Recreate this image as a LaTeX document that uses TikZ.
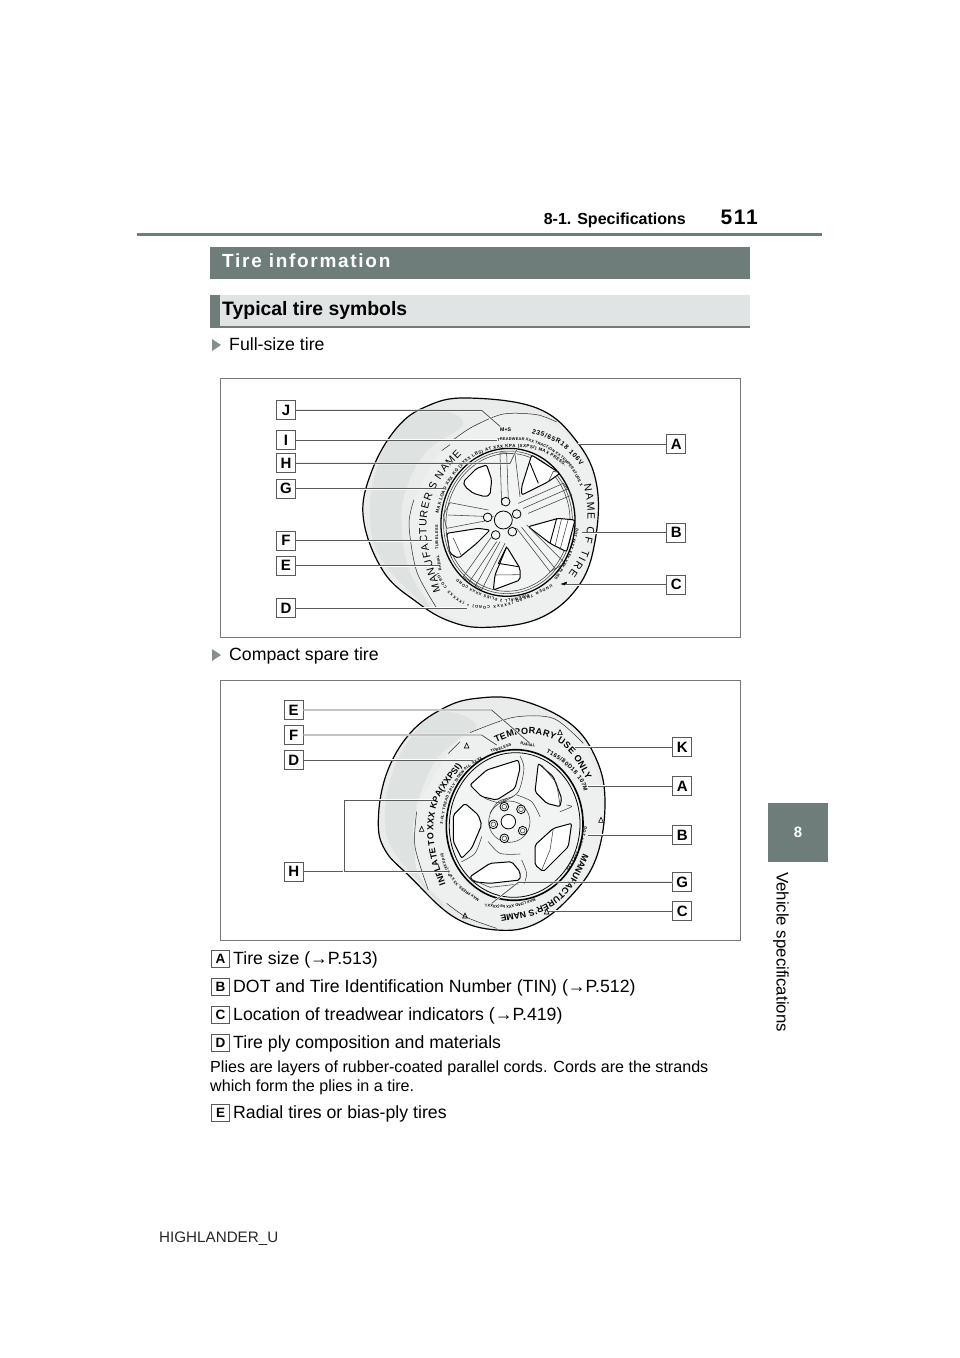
\documentclass[tikz,border=0pt]{standalone}
\usepackage{fontspec}
\setmainfont{Liberation Sans}
\usetikzlibrary{decorations.text}
\definecolor{bar}{HTML}{6E7C7A}
\definecolor{lbar}{HTML}{E0E4E4}
\definecolor{frame}{HTML}{777777}
\definecolor{lead}{HTML}{5A5A5A}
\definecolor{tread}{HTML}{DEE3E2}
\definecolor{pale}{HTML}{E9ECEB}
\definecolor{wall}{HTML}{EDF0EF}
\definecolor{rim}{HTML}{F2F3F3}
\newcommand\fs[1]{\fontsize{#1}{#1}\selectfont}
\newcommand\fTiny{\fontsize{3.9}{5}\selectfont\bfseries}
\newcommand\fLoad{\fontsize{4.4}{5}\selectfont\bfseries}
\newcommand\fSize{\fontsize{6.6}{7}\selectfont\bfseries}
\newcommand\fSpare{\fontsize{5.9}{7}\selectfont\bfseries}
\newcommand\fName{\fontsize{10.5}{11}\selectfont}
\newcommand\fBig{\fontsize{8.8}{9}\selectfont\bfseries}
\newcommand\fTemp{\fontsize{9.1}{10}\selectfont\bfseries}
\newcommand\ctdraw[3]{\path[decorate,decoration={text along path,text align={fit to path},text={|#2|#3}}] #1;}
\newcommand\ctext[3]{%
  \foreach \a/\b [count=\i] in {#3}{%
    \ifnum\i=1 \xdef\ctX{\a}\xdef\ctY{\b}\xdef\ctPath{(\a,\b)}\else \xdef\ctX{\ctX,\a}\xdef\ctY{\ctY,\b}\fi
    \xdef\ctN{\i}}%
  \xdef\ctXb{{\ctX}}\xdef\ctYb{{\ctY}}%
  \pgfmathtruncatemacro\ctLast{\ctN-2}%
  \foreach \k in {0,...,\ctLast}{%
    \pgfmathtruncatemacro\ia{max(\k-1,0)}%
    \pgfmathtruncatemacro\ib{\k}%
    \pgfmathtruncatemacro\ic{\k+1}%
    \pgfmathtruncatemacro\id{min(\k+2,\ctN-1)}%
    \pgfmathsetmacro\xa{\ctXb[\ia]}\pgfmathsetmacro\xb{\ctXb[\ib]}\pgfmathsetmacro\xc{\ctXb[\ic]}\pgfmathsetmacro\xd{\ctXb[\id]}%
    \pgfmathsetmacro\ya{\ctYb[\ia]}\pgfmathsetmacro\yb{\ctYb[\ib]}\pgfmathsetmacro\yc{\ctYb[\ic]}\pgfmathsetmacro\yd{\ctYb[\id]}%
    \foreach \s in {1,...,6}{%
      \pgfmathsetmacro\cT{\s/6}%
      \pgfmathsetmacro\px{0.5*(2*\xb+(\xc-\xa)*\cT+(2*\xa-5*\xb+4*\xc-\xd)*\cT*\cT+(3*\xb-\xa-3*\xc+\xd)*\cT*\cT*\cT)}%
      \pgfmathsetmacro\py{0.5*(2*\yb+(\yc-\ya)*\cT+(2*\ya-5*\yb+4*\yc-\yd)*\cT*\cT+(3*\yb-\ya-3*\yc+\yd)*\cT*\cT*\cT)}%
      \xdef\ctPath{\ctPath -- (\px,\py)}%
    }%
  }%
  \expandafter\ctdraw\expandafter{\ctPath}{#1}{#2}%
}
\tikzset{
 lbl/.style={draw=lead,fill=white,line width=1pt,minimum size=19pt,inner sep=0pt,font=\fs{15}\bfseries},
 ldr/.style={draw=white,double=lead,double distance=.9pt,line width=.6pt},
 outl/.style={draw=black,line width=1.2pt,line join=round},
 thin/.style={draw=black!85,line width=.5pt},
 spk/.style={draw=black!75,line width=.55pt,line cap=round},
 win/.style={fill=white,draw=black,line width=1pt,line join=round,rounded corners=2pt},
 frm/.style={draw=frame,line width=1pt},
 itm/.style={draw=lead,fill=white,line width=.8pt,minimum size=17.5pt,inner sep=0pt,font=\fs{13.5}\bfseries},
 body/.style={anchor=base west,inner sep=0pt,font=\fs{17.7}},
 tri/.style={fill=bar!85},
 bolt/.style={draw=black,fill=rim,line width=.8pt},
}
\begin{document}
\begin{tikzpicture}[x=1pt,y=-1pt]
\useasboundingbox (0,0) rectangle (960,1358);
% header
\fill[bar] (137,232.5) rectangle (822,235.5);
\node[anchor=base east,inner sep=0pt,font=\fs{16}\bfseries] (sec) at (686,224) {8-1. Specifications};
\node[anchor=base east,inner sep=0pt,font=\fs{21}\bfseries\addfontfeature{LetterSpace=8}] (pg) at (758,224) {511};
\fill[bar] (210,247) rectangle (750,279);
\node[anchor=base west,inner sep=0pt,text=white,font=\fs{19}\bfseries\addfontfeature{LetterSpace=9}] (t1) at (222,267) {Tire information};
\fill[lbar] (210,295) rectangle (750,328);
\fill[bar] (210,295) rectangle (220,328);
\fill[bar] (210,326) rectangle (750,328);
\node[anchor=base west,inner sep=0pt,font=\fs{19.4}\bfseries] (t2) at (222,315) {Typical tire symbols};
\fill[tri] (212,339) -- (221,345) -- (212,351) -- cycle;
\node[body] (sub1) at (229,350) {Full-size tire};
\fill[tri] (212,649) -- (221,655) -- (212,661) -- cycle;
\node[body] (sub2) at (229,660) {Compact spare tire};
% frames
\draw[frm] (220,378) rectangle (740,637);
\draw[frm] (220,680) rectangle (740,940);
% side tab
\fill[bar] (768,803) rectangle (828,862);
\node[text=white,font=\fs{15}\bfseries,inner sep=0pt] (tab) at (798,832) {8};
\node[rotate=-90,inner sep=0pt,font=\fs{16.8}] (vs) at (781,952) {Vehicle specifications};
% list
\node[itm] (iA) at (220.5,959) {A};
\node[body] (tA) at (233,964) {Tire size (→P.513)};
\node[itm] (iB) at (220.5,987) {B};
\node[body] (tB) at (233,992) {DOT and Tire Identification Number (TIN) (→P.512)};
\node[itm] (iC) at (220.5,1015) {C};
\node[body] (tC) at (233,1020) {Location of treadwear indicators (→P.419)};
\node[itm] (iD) at (220.5,1043) {D};
\node[body] (tD) at (233,1048) {Tire ply composition and materials};
\node[anchor=base west,inner sep=0pt,font=\fs{16.1}] (p1) at (210,1072) {Plies are layers of rubber-coated parallel cords. Cords are the strands};
\node[anchor=base west,inner sep=0pt,font=\fs{16.1}] (p2) at (210,1091) {which form the plies in a tire.};
\node[itm] (iE) at (220.5,1113) {E};
\node[body] (tE) at (233,1118) {Radial tires or bias-ply tires};
\node[anchor=base west,inner sep=0pt,text=black!85,font=\fs{15.2}] (foot) at (159,1242) {HIGHLANDER\_U};

% ===== TIRE 1 =====
\begin{scope}[shift={(220,378)},x=.33333pt,y=-.33333pt]
\fill[pale] plot[smooth cycle,tension=.65] coordinates {(740,60) (950,90) (1070,190) (1130,320) (1125,490) (1075,625) (960,720) (800,748) (690,730) (590,672) (490,580) (430,420) (455,280) (530,150) (620,85)};
\fill[tread] plot[smooth cycle,tension=.7] coordinates {(620,92) (530,155) (470,270) (450,420) (485,545) (600,670) (625,680) (565,570) (545,430) (560,330) (620,220) (730,135)};
\fill[wall] plot[smooth cycle,tension=.75] coordinates {(880,103) (1040,170) (1125,320) (1120,490) (1075,620) (960,715) (800,745) (650,690) (590,580) (567,440) (582,365) (665,218) (760,145)};
\draw[outl] plot[smooth cycle,tension=.65] coordinates {(740,60) (950,90) (1070,190) (1130,320) (1125,490) (1075,625) (960,720) (800,748) (690,730) (590,672) (490,580) (430,420) (455,280) (530,150) (620,85)};
\draw[thin] plot[smooth] coordinates {(665,218) (690,200)};
\draw[thin] plot[smooth] coordinates {(700,185) (760,145) (850,108) (950,110) (1010,132)};
\draw[thin] plot[smooth] coordinates {(582,365) (567,440) (590,580) (650,690)};
% rim
\draw[fill=rim,draw=black,line width=1.3pt,shift={(864,433)},rotate=-5] (0,0) ellipse[x radius=201,y radius=222];
\draw[spk,shift={(864,433)},rotate=-5] (0,0) ellipse[x radius=193,y radius=214];
\draw[spk,shift={(864,433)},rotate=-5] (0,0) ellipse[x radius=186,y radius=207];
% windows
\path[win] (730,311) -- (770,271) -- (800,261) -- (815,306) -- (810,351) -- (795,356) -- (760,346) -- (735,326) -- cycle;
\path[win] (935,231) -- (1020,286) -- (985,311) -- (905,351) -- (905,326) -- cycle;
\path[win] (925,446) -- (1015,421) -- (1065,426) -- (1040,521) -- (990,496) -- cycle;
\path[win] (860,506) -- (900,571) -- (900,606) -- (820,636) -- (825,591) -- cycle;
\path[win] (680,466) -- (775,451) -- (810,456) -- (770,496) -- (715,541) -- (690,526) -- cycle;
\draw[black,line width=.9pt] (930,255) -- (955,316) (1010,421) -- (990,496) (860,506) -- (835,556) -- (895,566);
\draw[spk] (1025,421) -- (1005,505) (1045,423) -- (1020,515) (985,311) -- (1000,280) -- (1015,283);
\draw[spk] (825,591) -- (900,590);
\draw[spk] (680,466) -- (690,526) -- (695,540) (700,480) -- (725,535);
% spoke lines
\draw[spk] (670,411) -- (690,374) -- (805,396) (670,411) -- (680,451) -- (810,426) (685,411) -- (820,416);
\draw[spk] (840,225) -- (845,381) (860,225) -- (865,366) (885,228) -- (900,356) (840,225) -- (860,225) -- (885,228);
\draw[spk] (895,376) -- (1030,316) -- (1055,351) -- (925,406) (910,391) -- (1040,334);
\draw[spk] (890,451) -- (990,581) (920,441) -- (1035,556) (905,448) -- (1005,571) (990,581) -- (1035,556);
\draw[spk] (830,491) -- (745,616) (855,496) -- (785,636) (815,476) -- (730,596) (840,491) -- (765,626) (730,596) -- (785,636);
% hub
\foreach \a/\b in {857/371,803/418,890/408,827/471,877/461}
  \draw[bolt] (\a,\b) circle[radius=13];
\node[circle,draw=black,fill=rim,line width=.8pt,minimum size=18pt,inner sep=0pt] (hub1) at (850,426) {};
% texts
\node[inner sep=0pt,font=\fontsize{5.2}{6}\selectfont\bfseries] (ms) at (857,154) {M+S};
\ctext{\fSize}{235/65R18 106V}{935/165,1020/200,1082/262}
\ctext{\fTiny}{TREADWEAR XXX TRACTION XX TEMPERATURE X}{833/189,915/188,985/214,1045/262,1082/325}
\ctext{\fLoad}{MAX LOAD XXX KG (XXXX LBS) AT XXX KPA (XXPSI) MAX PRESS.}{655/405,683/325,742/250,810/218,885/208,965/220,1035/265}
\ctext{\fName}{NAME OF TIRE}{1092/318,1102/390,1100/460,1082/530,1045/590}
\ctext{\fName}{MANUFACTURER'S NAME}{662/640,630/530,620/460,625/390,650/325,680/278,725/230}
\ctext{\fTiny}{TUBELESS}{655/514,654/441}
\ctext{\fTiny}{RADIAL}{665/576,657/531}
\ctext{\fTiny}{DOT XXXX XXX XXX PLIES}{1068/450,1045/530,1003/603}
\ctext{\fTiny}{UNDER TREAD (XXXXX CORD) + (XXXXX CORD)}{995/620,920/655,840/680,750/680,690/640,655/585}
\ctext{\fTiny}{SIDEWALL 2 PLIES XXXX CORD}{928/648,850/664,770/640,712/604}
\draw[black,fill=black,line width=.4pt] (1024,618) -- (1040,612) -- (1037,622) -- cycle;
% labels
\node[lbl] (J1) at (198,97) {J};
\node[lbl] (I1) at (198,186) {I};
\node[lbl] (H1) at (198,256) {H};
\node[lbl] (G1) at (198,332) {G};
\node[lbl] (F1) at (198,488) {F};
\node[lbl] (E1) at (198,563) {E};
\node[lbl] (D1) at (198,690) {D};
\node[lbl] (A1) at (1369,198) {A};
\node[lbl] (B1) at (1369,464) {B};
\node[lbl] (C1) at (1369,620) {C};
\coordinate (J1e) at (840,145); \coordinate (J1k) at (785,97);
\coordinate (I1e) at (830,186);
\coordinate (H1e) at (890,215); \coordinate (H1k) at (870,256);
\coordinate (G1e) at (668,332);
\coordinate (F1e) at (635,488);
\coordinate (E1e) at (658,563);
\coordinate (D1e) at (740,690);
\coordinate (A1e) at (1075,198);
\coordinate (B1e) at (1085,464);
\coordinate (C1e) at (1035,620);
\draw[ldr] (J1) -- (J1k) -- (J1e);
\draw[ldr] (I1) -- (I1e);
\draw[ldr] (H1) -- (H1k) -- (H1e);
\draw[ldr] (G1) -- (G1e);
\draw[ldr] (F1) -- (F1e);
\draw[ldr] (E1) -- (E1e);
\draw[ldr] (D1) -- (D1e);
\draw[ldr] (A1) -- (A1e);
\draw[ldr] (B1) -- (B1e);
\draw[ldr] (C1) -- (C1e);
\end{scope}

% ===== TIRE 2 =====
\begin{scope}[shift={(220,680)},x=.33333pt,y=-.33333pt]
\fill[pale] plot[smooth cycle,tension=.65] coordinates {(770,55) (900,60) (1050,130) (1130,240) (1155,370) (1130,530) (1060,640) (950,730) (830,750) (700,710) (570,590) (495,510) (475,420) (500,280) (570,160) (670,85)};
\fill[tread] plot[smooth cycle,tension=.7] coordinates {(660,95) (575,170) (515,285) (495,420) (525,520) (640,650) (670,675) (605,570) (585,430) (605,330) (665,220) (770,140)};
\fill[wall] plot[smooth cycle,tension=.75] coordinates {(880,112) (1000,115) (1090,190) (1150,370) (1125,530) (1055,640) (950,725) (830,745) (680,670) (600,590) (585,500) (590,395) (685,220) (750,158)};
\draw[outl] plot[smooth cycle,tension=.65] coordinates {(770,55) (900,60) (1050,130) (1130,240) (1155,370) (1130,530) (1060,640) (950,730) (830,750) (700,710) (570,590) (495,510) (475,420) (500,280) (570,160) (670,85)};
\draw[thin] plot[smooth] coordinates {(685,220) (720,185)};
\draw[thin] plot[smooth] coordinates {(750,158) (880,112) (1000,115) (1090,190)};
\draw[thin] plot[smooth] coordinates {(590,395) (585,500) (625,630)};
\draw[thin] plot[smooth] coordinates {(680,670) (740,712) (830,745)};
% rim
\draw[fill=rim,draw=black,line width=1.6pt,shift={(884,435)},rotate=-4] (0,0) ellipse[x radius=205,y radius=226];
\draw[black,line width=.8pt,shift={(884,435)},rotate=-4] (0,0) ellipse[x radius=196,y radius=217];
% windows
\path[win] (750,315) -- (800,270) -- (895,240) -- (900,265) -- (885,325) -- (830,360) -- (785,350) -- cycle;
\path[win] (955,250) -- (1000,290) -- (1025,355) -- (1020,380) -- (980,370) -- (945,335) -- cycle;
\path[win] (945,495) -- (1000,445) -- (1055,430) -- (1045,500) -- (970,575) -- (945,555) -- cycle;
\path[win] (750,590) -- (810,550) -- (875,545) -- (900,575) -- (900,600) -- (810,610) -- (760,605) -- cycle;
\path[win] (700,405) -- (735,370) -- (775,405) -- (785,435) -- (755,505) -- (725,535) -- (700,485) -- cycle;
\draw[spk] (965,255) -- (1010,310) -- (1020,375) (1000,445) -- (990,510) -- (965,570) (755,598) -- (810,622) -- (895,612);
\draw[spk] plot[smooth] coordinates {(900,228) (912,265) (895,335) (850,365)};
\draw[spk] plot[smooth] coordinates {(795,355) (835,368) (860,355)};
\draw[spk] plot[smooth] coordinates {(1040,375) (1055,380) (1020,395)};
\draw[spk] plot[smooth] coordinates {(905,540) (920,580) (912,612)};
\draw[spk] plot[smooth] coordinates {(725,545) (765,520) (785,470)};
\draw[spk] plot[smooth] coordinates {(890,345) (935,365) (960,410)};
\draw[spk] plot[smooth] coordinates {(805,485) (840,520) (900,522)};
\draw[spk] plot[smooth] coordinates {(810,400) (835,365) (880,350)};
\draw[spk] (868,425) circle[radius=62];
% hub
\foreach \a/\b in {853/380,903/388,820/433,908/452,853/475}
  {\draw[bolt] (\a,\b) circle[radius=13]; \draw[spk] (\a,\b) circle[radius=7];}
\node[circle,draw=black,fill=white,line width=.8pt,minimum size=14.5pt,inner sep=0pt] (hub2) at (865,425) {};
% texts
\ctext{\fTemp}{TEMPORARY USE ONLY}{828/188,900/163,985/172,1052/220,1100/300}
\ctext{\fSpare}{T165/80D18 107M}{978/218,1030/250,1078/300,1092/335}
\ctext{\fTiny}{TUBELESS}{813/218,875/198}
\ctext{\fTiny}{RADIAL}{901/194,944/201}
\ctext{\fTiny}{3-PLY TREAD 2-PLY SIDEWALL XXXX}{668/432,686/352,734/274,788/238}
\ctext{\fBig}{INFLATE TO XXX KPA(XXPSI)}{677/612,650/530,640/440,660/352,726/258}
\ctext{\fTiny}{MAX PRESS. XXX kPa (XXX psi)}{778/658,722/618,685/570,668/520}
\ctext{\fTiny}{MAX LOAD XXX kg (XXXX LBS)}{945/656,870/676,795/672}
\ctext{\fBig}{MANUFACTURER'S NAME}{1090/520,1040/615,960/680,840/708}
\ctext{\fTiny}{DOT XXXX XXXXXXX}{1094/440,1072/510,1038/570}
\foreach \a/\b in {740/197,605/447,1020/157,1143/420,980/695,735/707}
  \draw[black,line width=.6pt] (\a-7,\b+7) -- (\a+7,\b+7) -- (\a,\b-8) -- cycle;
% labels
\node[lbl] (E2) at (221,90) {E};
\node[lbl] (F2) at (221,165) {F};
\node[lbl] (D2) at (221,241) {D};
\node[lbl] (H2) at (221,575) {H};
\node[lbl] (K2) at (1387,202) {K};
\node[lbl] (A2) at (1387,319) {A};
\node[lbl] (B2) at (1387,466) {B};
\node[lbl] (G2) at (1387,607) {G};
\node[lbl] (C2) at (1387,694) {C};
\coordinate (E2k) at (815,90); \coordinate (E2e) at (930,190);
\coordinate (F2k) at (785,165); \coordinate (F2e) at (830,195);
\coordinate (D2e) at (760,241);
\coordinate (H2j) at (372,575); \coordinate (H2t) at (372,360);
\coordinate (H2a) at (640,360); \coordinate (H2b) at (685,575);
\coordinate (K2e) at (1065,202);
\coordinate (A2e) at (1105,319);
\coordinate (B2e) at (1105,466);
\coordinate (G2k) at (895,607); \coordinate (G2e) at (815,670);
\coordinate (C2e) at (985,694);
\draw[ldr] (E2) -- (E2k) -- (E2e);
\draw[ldr] (F2) -- (F2k) -- (F2e);
\draw[ldr] (D2) -- (D2e);
\draw[ldr] (H2) -- (H2b);
\draw[ldr] (H2j) -- (H2t) -- (H2a);
\draw[ldr] (K2) -- (K2e);
\draw[ldr] (A2) -- (A2e);
\draw[ldr] (B2) -- (B2e);
\draw[ldr] (G2) -- (G2k) -- (G2e);
\draw[ldr] (C2) -- (C2e);
\end{scope}
\end{tikzpicture}
\end{document}
